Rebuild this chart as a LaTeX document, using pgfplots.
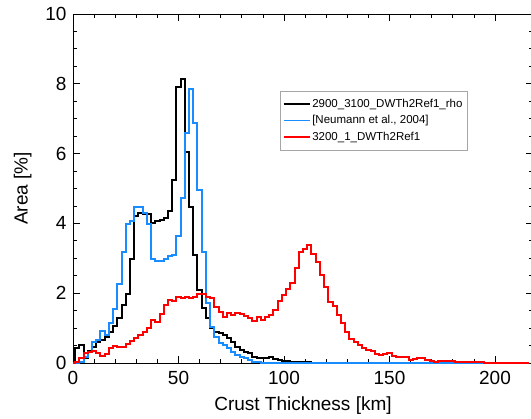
\documentclass[border=0pt]{standalone}
\usepackage{pgfplots}
\pgfplotsset{compat=1.18}
\usepackage{pgfplotstable}
\usepackage{fontspec}
\setmainfont{Liberation Sans}
\definecolor{idlblue}{RGB}{25,140,255}
\definecolor{idlred}{RGB}{255,0,0}

\pgfplotstableread{
x y
0 0.02
2 0.42
4 0.52
6 0.15
8 0.35
10 0.45
12 0.6
14 0.65
16 0.75
18 0.88
20 1.07
22 1.29
24 1.65
26 1.98
28 2.98
30 4.22
32 4.3
34 4.26
36 4.26
38 4.02
40 4.07
42 4.1
44 4.16
46 4.35
48 5.24
50 7.9
52 8.13
54 6.05
56 4.48
58 3.09
60 2.09
62 1.57
64 1.28
66 0.99
68 0.9
70 0.85
72 0.8
74 0.71
76 0.61
78 0.47
80 0.37
82 0.32
84 0.28
86 0.18
88 0.13
90 0.14
92 0.15
94 0.16
96 0.12
98 0.08
100 0.07
102 0.05
104 0.04
106 0.03
108 0.03
110 0.02
112 0.02
114 0.01
116 0.01
118 0.0
140 0.0
180 0.0
216 0.0
}\blackdata

\pgfplotstableread{
x y
0 0.0
2 0.0
4 0.02
6 0.17
8 0.32
10 0.6
12 0.65
14 0.93
16 0.8
18 1.16
20 1.55
22 2.26
24 3.17
26 3.98
28 4.07
30 4.48
32 4.46
34 4.3
36 3.98
38 2.98
40 2.93
42 2.93
44 2.98
46 3.08
48 3.1
50 3.65
52 4.72
54 6.58
56 7.84
58 6.87
60 4.97
62 3.19
64 1.71
66 1.04
68 0.75
70 0.56
72 0.52
74 0.42
76 0.32
78 0.22
80 0.17
82 0.13
84 0.08
86 0.04
88 0.02
90 0.01
92 0.0
140 0.0
180 0.0
216 0.0
}\bluedata

\pgfplotstableread{
x y
0 0.0
2 0.02
4 0.13
6 0.28
8 0.32
10 0.35
12 0.28
14 0.2
16 0.25
18 0.42
20 0.5
22 0.47
24 0.45
26 0.55
28 0.63
30 0.71
32 0.8
34 0.9
36 1.0
38 1.22
40 1.18
42 1.4
44 1.65
46 1.8
48 1.78
50 1.9
52 1.86
54 1.9
56 1.86
58 1.9
60 1.98
62 1.98
64 1.9
66 1.86
68 1.61
70 1.47
72 1.33
74 1.42
76 1.38
78 1.42
80 1.4
82 1.36
84 1.28
86 1.21
88 1.33
90 1.23
92 1.33
94 1.38
96 1.52
98 1.78
100 1.95
102 2.11
104 2.28
106 2.72
108 3.19
110 3.27
112 3.38
114 3.12
116 2.88
118 2.52
120 2.17
122 1.76
124 1.63
126 1.38
128 1.14
130 0.9
132 0.68
134 0.61
136 0.52
138 0.42
140 0.37
142 0.33
144 0.26
146 0.24
148 0.25
150 0.28
152 0.2
154 0.18
156 0.18
158 0.17
160 0.1
162 0.12
164 0.14
166 0.15
168 0.1
170 0.06
172 0.04
174 0.06
176 0.05
178 0.06
180 0.05
182 0.04
184 0.04
186 0.04
188 0.03
190 0.02
192 0.02
194 0.02
196 0.01
198 0.01
200 0.01
202 0.0
216 0.0
}\reddata

\begin{document}
\begin{tikzpicture}
\begin{axis}[
  at={(0pt,0pt)}, anchor=south west,
  scale only axis,
  width=460pt, height=349pt,
  xmin=0, xmax=218, ymin=0, ymax=10,
  xtick={0,50,100,150,200},
  ytick={0,2,4,6,8,10},
  minor x tick num=4,
  minor y tick num=3,
  tick align=inside,
  major tick length=7pt,
  minor tick length=4pt,
  every tick/.style={black, line width=0.8pt},
  axis line style={black, line width=0.9pt},
  /pgf/number format/assume math mode=true,
  ticklabel style={font=\fontsize{19}{19}\selectfont},
  xticklabel style={yshift=-5pt},
  yticklabel style={xshift=-3pt},
  xlabel={Crust Thickness [km]},
  ylabel={Area [\%]},
  label style={font=\fontsize{19}{19}\selectfont},
  xlabel style={yshift=-5pt},
  ylabel style={yshift=7pt},
  clip=false,
  legend cell align=left,
  legend style={
    at={(0.45,0.779)}, anchor=north west,
    draw=gray!70, line width=0.6pt,
    font=\fontsize{11.5}{11.5}\selectfont,
    inner xsep=2.5pt, inner ysep=6pt,
    row sep=3pt,
    cells={inner xsep=2.5pt, inner ysep=0pt, text height=8pt, text depth=2.5pt},
  },
  legend image code/.code={\draw[#1] (0pt,0pt) -- (26pt,0pt);},
]
\addplot[forget plot, const plot mark mid, black, line width=2pt] table[x=x,y=y] {\blackdata};
\addplot[forget plot, const plot mark mid, idlblue, line width=2pt] table[x=x,y=y] {\bluedata};
\addplot[forget plot, const plot mark mid, idlred, line width=2pt] table[x=x,y=y] {\reddata};
\addlegendimage{draw=black, line width=1.5pt}
\addlegendentry{2900\_3100\_DWTh2Ref1\_rho}
\addlegendimage{draw=idlblue, line width=1.5pt}
\addlegendentry{[Neumann et al., 2004]}
\addlegendimage{draw=idlred, line width=1.5pt}
\addlegendentry{3200\_1\_DWTh2Ref1}
\end{axis}
\pgfresetboundingbox
\useasboundingbox (-73pt,-56pt) rectangle (458pt,363pt);
\end{tikzpicture}
\end{document}
